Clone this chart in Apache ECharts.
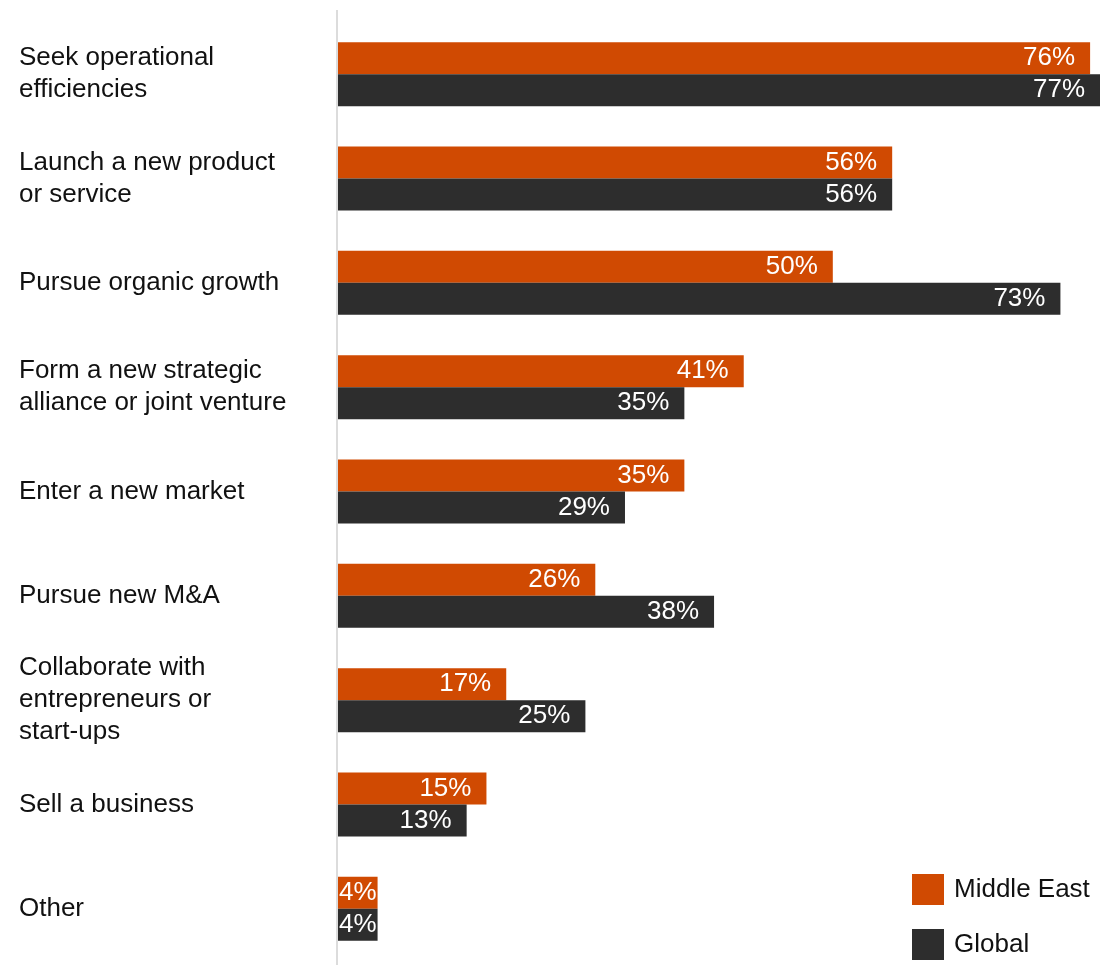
<!DOCTYPE html>
<html>
<head>
<meta charset="utf-8">
<script src="https://cdn.jsdelivr.net/npm/echarts@6/dist/echarts.min.js"></script>
<style>
  html, body { margin: 0; padding: 0; background: #fff; }
  #chart { width: 1100px; height: 965px; }
</style>
</head>
<body>
<div id="chart"></div>
<script>
// Business actions planned, share of respondents (%)
const categories = [
  'Seek operational\nefficiencies',
  'Launch a new product\nor service',
  'Pursue organic growth',
  'Form a new strategic\nalliance or joint venture',
  'Enter a new market',
  'Pursue new M&A',
  'Collaborate with\nentrepreneurs or\nstart-ups',
  'Sell a business',
  'Other'
];
const middleEast = [76, 56, 50, 41, 35, 26, 17, 15, 4];
const globalValues = [77, 56, 73, 35, 29, 38, 25, 13, 4];

const FONT = '"Liberation Sans", Arial, Helvetica, sans-serif';
const ORANGE = '#D04A02';
const DARK = '#2D2D2D';

const chart = echarts.init(document.getElementById('chart'), null, { renderer: 'canvas' });

const baseLabel = {
  show: true,
  position: 'insideRight',
  distance: 15,
  color: '#fff',
  fontFamily: FONT,
  fontSize: 26,
  padding: [3, 0, 0, 0],
  formatter: p => p.value + '%'
};

// short bars get their value centred inside the bar
function withLabels(values) {
  return values.map(v => v < 6
    ? { value: v, label: { position: 'inside', distance: 0 } }
    : v);
}

chart.setOption({
  animation: false,
  backgroundColor: '#fff',
  textStyle: { fontFamily: FONT },
  grid: { left: 338, right: 0, top: 22, bottom: 4, containLabel: false },
  xAxis: {
    type: 'value',
    min: 0,
    max: 77,
    show: false
  },
  yAxis: {
    type: 'category',
    data: categories,
    inverse: true,
    axisLine: { show: false },
    axisTick: { show: false },
    splitLine: { show: false },
    axisLabel: {
      align: 'left',
      margin: 319,
      color: '#111',
      fontFamily: FONT,
      fontSize: 26,
      lineHeight: 32,
      padding: [8, 0, 0, 0]
    }
  },
  legend: {
    orient: 'vertical',
    left: 912,
    top: 874,
    padding: 0,
    height: 91,
    itemWidth: 32,
    itemHeight: 31,
    itemGap: 24,
    icon: 'rect',
    textStyle: { color: '#111', fontFamily: FONT, fontSize: 26, padding: [5, 0, 0, 5] },
    data: ['Middle East', 'Global']
  },
  graphic: [{
    type: 'line',
    shape: { x1: 337, y1: 10, x2: 337, y2: 965 },
    style: { stroke: '#dcdcdc', lineWidth: 2 },
    z: 0
  }],
  series: [
    {
      name: 'Middle East',
      type: 'bar',
      data: withLabels(middleEast),
      barWidth: 32,
      barGap: '0%',
      itemStyle: { color: ORANGE },
      label: baseLabel,
      z: 3
    },
    {
      name: 'Global',
      type: 'bar',
      data: withLabels(globalValues),
      barWidth: 32,
      itemStyle: { color: DARK },
      label: baseLabel,
      z: 3
    }
  ]
});
</script>
</body>
</html>
